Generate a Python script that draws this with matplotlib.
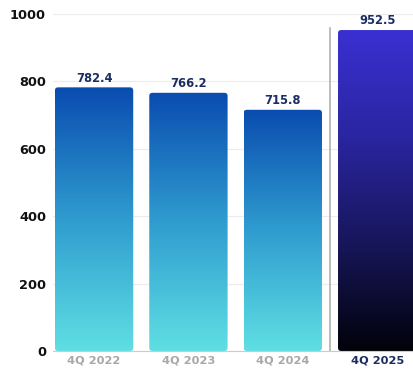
import numpy as np
import matplotlib.pyplot as plt
from matplotlib.patches import FancyBboxPatch
from matplotlib.colors import LinearSegmentedColormap

categories = ["4Q 2022", "4Q 2023", "4Q 2024", "4Q 2025"]
values = [782.4, 766.2, 715.8, 952.5]
yticks = [0, 200, 400, 600, 800, 1000]

blue_cmap = LinearSegmentedColormap.from_list("blue", ["#5fdfe3", "#2f9ccf", "#0a4cb0"])
dark_cmap = LinearSegmentedColormap.from_list("dark", ["#02020a", "#17165a", "#2a25a0", "#3a30d2"])

fig = plt.figure(figsize=(4.14, 3.69), dpi=100)
ax = fig.add_axes([0.128, 0.0488, 0.872, 0.9132])

width = 0.83
grad = np.linspace(0, 1, 256).reshape(-1, 1)

for i, (cat, v) in enumerate(zip(categories, values)):
    cmap = dark_cmap if i == 3 else blue_cmap
    x0 = i - width / 2
    patch = FancyBboxPatch((x0, 0), width, v,
                           boxstyle="round,pad=0,rounding_size=0.035",
                           mutation_aspect=1000 / 3.7,
                           facecolor="none", edgecolor="none")
    ax.add_patch(patch)
    im = ax.imshow(grad, cmap=cmap, origin="lower", aspect="auto",
                   extent=[x0, x0 + width, 0, v], zorder=2)
    im.set_clip_path(patch)
    ax.annotate(f"{v:.1f}", (i, v), xytext=(0, 2), textcoords="offset points",
                ha="center", va="bottom", fontsize=8.3, fontweight="bold",
                color="#1b2d62")

# separator between past and current
ax.plot([2.5, 2.5], [0, 958], color="#b0b0b0", linewidth=1.2, zorder=3)

ax.set_xlim(-0.435, 3.39)
ax.set_ylim(0, 1000)
ax.set_yticks(yticks)
ax.set_yticklabels([str(t) for t in yticks], fontsize=9.3, fontweight="bold", color="#111111")
ax.set_xticks(range(len(categories)))
ax.set_xticklabels(categories, fontsize=8.2, fontweight="bold")
for i, lab in enumerate(ax.get_xticklabels()):
    lab.set_color("#1b2d62" if i == 3 else "#a8a8a8")

ax.tick_params(axis="both", length=0)
ax.tick_params(axis="y", pad=5)
ax.tick_params(axis="x", pad=3)
ax.grid(axis="y", color="#ececec", linewidth=0.8, zorder=0)
ax.set_axisbelow(True)
for s in ["top", "right", "left"]:
    ax.spines[s].set_visible(False)
ax.spines["bottom"].set_color("#cccccc")

fig.savefig("out.png", dpi=100)
